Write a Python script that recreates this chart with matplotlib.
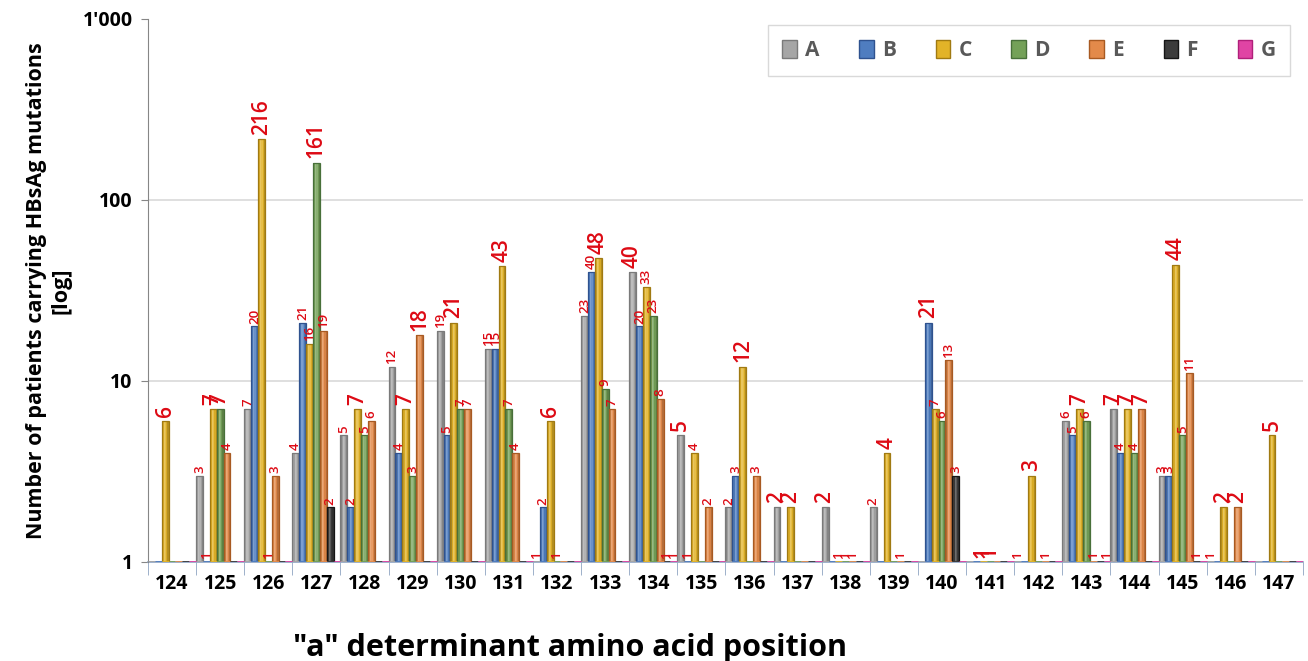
import numpy as np
import matplotlib.pyplot as plt
from matplotlib.colors import to_rgb
from matplotlib.patches import Patch

plt.rcParams['font.family'] = ['Open Sans', 'DejaVu Sans']

positions = list(range(124, 148))
genotypes = ["A", "B", "C", "D", "E", "F", "G"]

# patients per genotype at each "a" determinant position 124..147 (0 = none)
geno_A = [0, 3, 7, 4, 5, 12, 19, 15, 1, 23, 40, 5, 2, 2, 2, 2, 0, 0, 1, 6, 7, 3, 1, 0]
geno_B = [0, 1, 20, 21, 2, 4, 5, 15, 2, 40, 20, 1, 3, 0, 0, 0, 21, 0, 0, 5, 4, 3, 0, 0]
geno_C = [6, 7, 216, 16, 7, 7, 21, 43, 6, 48, 33, 4, 12, 2, 1, 4, 7, 1, 3, 7, 7, 44, 2, 5]
geno_D = [0, 7, 1, 161, 5, 3, 7, 7, 1, 9, 23, 0, 0, 0, 1, 0, 6, 1, 0, 6, 4, 5, 0, 0]
geno_E = [0, 4, 3, 19, 6, 18, 7, 4, 0, 7, 8, 2, 3, 0, 1, 1, 13, 0, 1, 1, 7, 11, 2, 0]
geno_F = [0, 0, 0, 2, 0, 0, 0, 0, 0, 0, 1, 0, 0, 0, 0, 0, 3, 0, 0, 0, 0, 1, 0, 0]
geno_G = [0, 0, 0, 0, 0, 0, 0, 0, 0, 0, 1, 0, 0, 0, 0, 0, 0, 0, 0, 1, 0, 0, 0, 0]
series = [geno_A, geno_B, geno_C, geno_D, geno_E, geno_F, geno_G]

face = ['#A6A6A6', '#4F7DC0', '#E2B328', '#74A158', '#E38A4A', '#3C3C3C', '#E044A4']
edge = ['#7A7A7A', '#2F528F', '#A07A12', '#48703A', '#A85A22', '#151515', '#B0207A']

# labels printed in the larger font
big = {(124, "C"), (125, "C"), (125, "D"), (126, "C"), (127, "D"), (128, "C"),
       (129, "C"), (129, "E"), (130, "C"), (131, "C"), (132, "C"), (133, "C"),
       (134, "A"), (135, "A"), (136, "C"), (137, "A"), (137, "C"), (138, "A"),
       (139, "C"), (140, "B"), (141, "C"), (141, "D"), (142, "C"), (143, "C"),
       (144, "A"), (144, "C"), (144, "E"), (145, "C"), (146, "C"), (146, "E"),
       (147, "C")}

# left-to-right shading across each bar (dark rim, light middle)
profile = [0.80, 0.95, 1.25, 1.15, 0.95, 0.80]


def shade(color, f):
    c = np.array(to_rgb(color))
    if f >= 1:
        return tuple(c + (1 - c) * (f - 1))
    return tuple(c * f)


fig = plt.figure(figsize=(13.08, 6.61), dpi=100)
ax = fig.add_axes([0.1131, 0.1498, 0.8830, 0.8215])
ax.set_yscale('log')

n = len(genotypes)
w = 1.0 / n
x = np.arange(len(positions))
for j, (g, vals) in enumerate(zip(genotypes, series)):
    vals = np.array(vals)
    xs = x - 0.5 + (j + 0.5) * w
    # bars start at 1 on the log axis, so empty cells stay a flat line
    heights = np.maximum(vals, 1) - 1
    k = len(profile)
    sw = w / k
    for s, f in enumerate(profile):
        ax.bar(xs - w / 2 + (s + 0.5) * sw, heights, bottom=1, width=sw,
               color=shade(face[j], f), linewidth=0, zorder=3)
    ax.bar(xs, heights, bottom=1, width=w, facecolor='none',
           edgecolor=edge[j], linewidth=0.9, zorder=3.5)
    # thin coloured strip along the base line for every cell
    ax.hlines(np.full(len(xs), 1.0), xs - w / 2, xs + w / 2, colors=face[j],
              linewidth=2.0, zorder=3.6)
    for xi, v, p in zip(xs, vals, positions):
        if v <= 0:
            continue
        large = (p, g) in big
        ax.annotate(str(v), (xi, v), xytext=(0, 3 if large else 2),
                    textcoords='offset points', rotation=90,
                    ha='center', va='bottom', color='#DD0A14',
                    fontsize=15 if large else 9.5, fontweight='semibold',
                    zorder=4)

ax.set_xlim(-0.5, len(positions) - 0.5)
ax.set_ylim(1, 1000)
for yg in (10, 100):
    ax.axhline(yg, color='#D9D9D9', linewidth=1.2, zorder=1)

ax.set_yticks([1, 10, 100, 1000], ["1", "10", "100", "1'000"])
ax.yaxis.set_minor_locator(plt.NullLocator())
ax.tick_params(axis='y', which='major', length=5, color='#868686', pad=6,
               labelsize=14)
for t in ax.get_yticklabels():
    t.set_fontweight('bold')

ax.set_xticks(x, [str(p) for p in positions])
ax.set_xticks(np.arange(-0.5, len(positions)), minor=True)
ax.tick_params(axis='x', which='major', length=0, pad=9, labelsize=14)
ax.tick_params(axis='x', which='minor', length=9, color='#8EA3C2')
for t in ax.get_xticklabels():
    t.set_fontweight('bold')

for s in ('top', 'right'):
    ax.spines[s].set_visible(False)
ax.spines['left'].set_color('#868686')
ax.spines['bottom'].set_color('#8EA3C2')
ax.spines['bottom'].set_linewidth(1.2)
ax.spines['bottom'].set_zorder(2)

ax.set_ylabel("Number of patients carrying HBsAg mutations\n[log]",
              fontsize=15.5, fontweight='bold', labelpad=8)
fig.text(0.436, 0.02, '"a" determinant amino acid position', ha='center',
         va='center', fontsize=22, fontweight='bold')

handles = [Patch(facecolor=face[j], edgecolor=edge[j]) for j in range(n)]
leg = ax.legend(handles, genotypes, ncol=n, loc='upper right',
                bbox_to_anchor=(0.989, 0.989), borderaxespad=0,
                frameon=True, fancybox=False,
                handlelength=0.7, handleheight=1.0, handletextpad=0.4,
                columnspacing=1.9, borderpad=0.7,
                prop={'size': 15, 'weight': 'bold'})
leg.get_frame().set_edgecolor('#D0D0D0')
leg.get_frame().set_linewidth(1.0)
for t in leg.get_texts():
    t.set_color('#595959')

fig.savefig('out.png', dpi=100)
